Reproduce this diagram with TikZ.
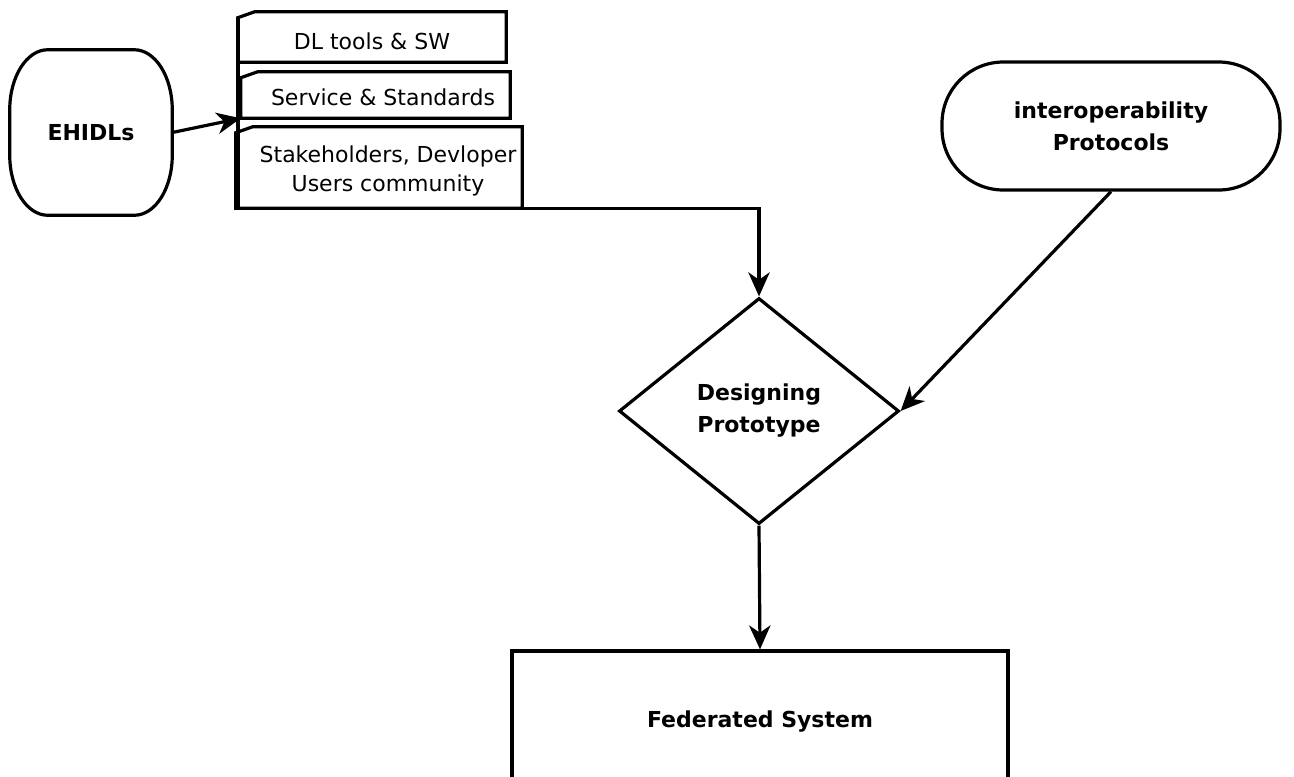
\documentclass[tikz,border=0pt]{standalone}
\usepackage{fontspec}
\setmainfont{DejaVu Sans}
\usetikzlibrary{shapes.geometric,arrows.meta,calc}
\tikzset{
  ln/.style={line width=2.4pt},
  arr/.style={ln,-{Stealth[length=18pt,width=16pt,inset=5.5pt]}},
  stackbox/.style={rectangle,inner sep=0pt},
  regtxt/.style={font=\fontsize{16.5pt}{21.75pt}\selectfont,align=center,inner sep=0pt},
  boldtxt/.style={font=\fontsize{16.5pt}{24pt}\selectfont\bfseries,align=center}
}
\newcommand{\chamferbox}[1]{%
  \draw[ln] (#1.south west) -- ($(#1.north west)+(0,6)$) -- ($(#1.north west)+(17,0)$)
    -- (#1.north east) -- (#1.south east) -- cycle;}
\begin{document}
\begin{tikzpicture}[x=0.75pt,y=-0.75pt]
\useasboundingbox (0,0) rectangle (1294,776);
\clip (0,0) rectangle (1294,776);
% EHIDLs
\node[minimum width=121.5pt,minimum height=123.75pt,boldtxt] (e) at (91,132.5) {EHIDLs};
\draw[ln] ($(e.north west)+(38,0)$) -- ($(e.north east)+(-38,0)$)
  arc[start angle=90,end angle=0,x radius=28.5pt,y radius=45pt]
  -- ($(e.south east)+(0,-60)$)
  arc[start angle=0,end angle=-90,x radius=28.5pt,y radius=45pt]
  -- ($(e.south west)+(38,0)$)
  arc[start angle=270,end angle=180,x radius=28.5pt,y radius=45pt]
  -- ($(e.north west)+(0,60)$)
  arc[start angle=180,end angle=90,x radius=28.5pt,y radius=45pt] -- cycle;
% stack
\node[stackbox,minimum width=201pt,minimum height=37.5pt] (s1) at (372,37) {};
\chamferbox{s1}
\node[regtxt] (t1) at (372,41) {DL tools \& SW};
\node[stackbox,minimum width=201.75pt,minimum height=34.5pt] (s2) at (375.5,95) {};
\chamferbox{s2}
\node[regtxt] (t2) at (383,97) {Service \& Standards};
\node[stackbox,minimum width=214.5pt,minimum height=60.75pt] (s3) at (379,167.5) {};
\chamferbox{s3}
\node[regtxt] (t3) at (388,171) {Stakeholders, Devloper\\Users community};
\draw[ln] (238,18) -- (238,209);
% protocols
\node[ln,draw,rounded corners=46pt,minimum width=253.5pt,minimum height=96pt,boldtxt] (p) at (1111,126) {interoperability\\Protocols};
% diamond
\node[ln,draw,diamond,minimum width=210pt,minimum height=169.5pt,inner sep=0pt,boldtxt] (d) at (759,411) {Designing\\Prototype};
% federated
\node[ln,draw,minimum width=372pt,minimum height=105pt,boldtxt] (f) at (760,721) {Federated System};
% connectors
\draw[arr] (e.east) -- (s2.south west);
\draw[arr] (s3.south west) -| (d.north);
\draw[arr] (p.south) -- (d.east);
\draw[arr] (d.south) -- (f.north);
\end{tikzpicture}
\end{document}
